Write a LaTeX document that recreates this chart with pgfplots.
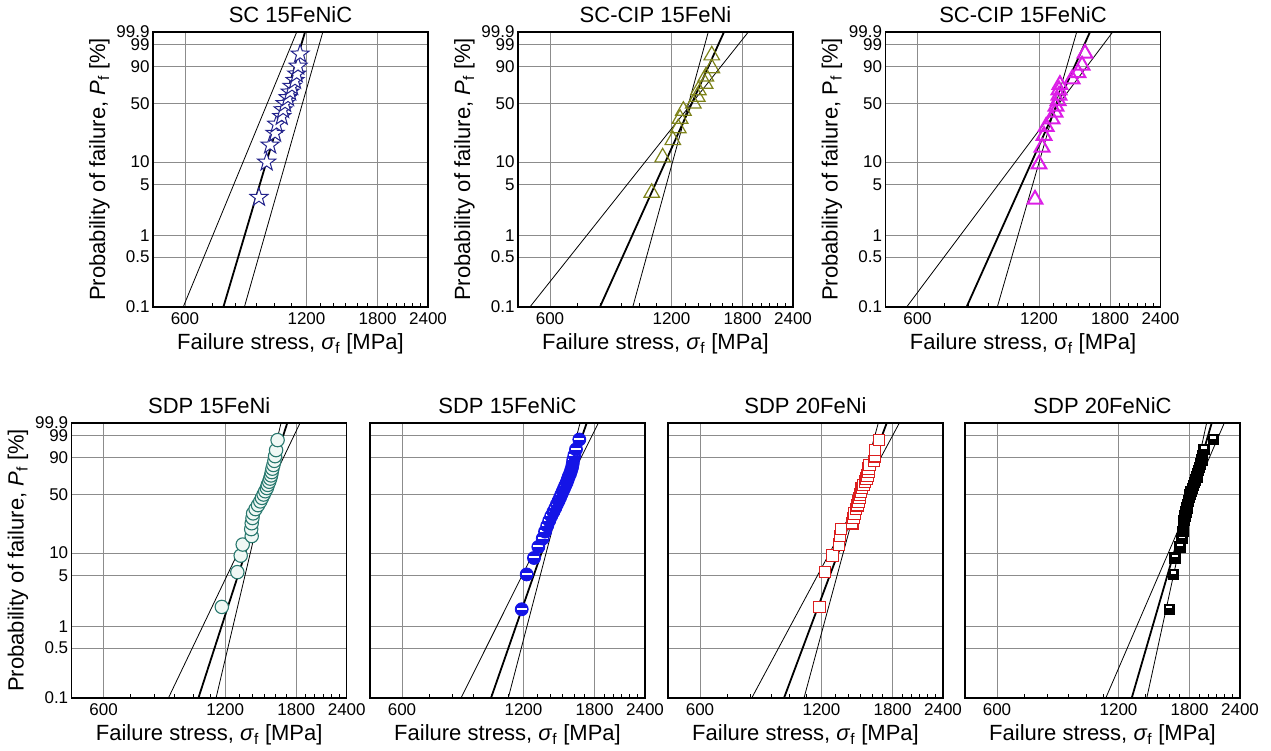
\documentclass[border=0pt]{standalone}
\usepackage{fontspec}
\setmainfont{Liberation Sans}
\usepackage{pgfplots}
\pgfplotsset{compat=1.18}
\usepackage{pgfplotstable}
\usetikzlibrary{plotmarks}

\definecolor{cnavy}{RGB}{35,35,140}
\definecolor{colive}{RGB}{125,130,25}
\definecolor{cmag}{RGB}{220,30,230}
\definecolor{cteal}{RGB}{40,120,110}
\definecolor{ctealf}{RGB}{240,248,245}
\definecolor{cblue}{RGB}{20,20,230}
\definecolor{cred}{RGB}{220,30,30}

\pgfdeclareplotmark{ostar}{%
  \pgfpathmoveto{\pgfpointpolar{90}{\pgfplotmarksize}}%
  \pgfpathlineto{\pgfpointpolar{126}{0.4\pgfplotmarksize}}%
  \pgfpathlineto{\pgfpointpolar{162}{\pgfplotmarksize}}%
  \pgfpathlineto{\pgfpointpolar{198}{0.4\pgfplotmarksize}}%
  \pgfpathlineto{\pgfpointpolar{234}{\pgfplotmarksize}}%
  \pgfpathlineto{\pgfpointpolar{270}{0.4\pgfplotmarksize}}%
  \pgfpathlineto{\pgfpointpolar{306}{\pgfplotmarksize}}%
  \pgfpathlineto{\pgfpointpolar{342}{0.4\pgfplotmarksize}}%
  \pgfpathlineto{\pgfpointpolar{18}{\pgfplotmarksize}}%
  \pgfpathlineto{\pgfpointpolar{54}{0.4\pgfplotmarksize}}%
  \pgfpathclose
  \pgfusepathqfillstroke
}
\pgfdeclareplotmark{bandcircle}{%
  \pgfpathcircle{\pgfpointorigin}{\pgfplotmarksize}%
  \pgfusepathqfillstroke
  \pgfscope
  \pgfsetfillcolor{white}%
  \pgfpathrectangle{\pgfpoint{-0.75\pgfplotmarksize}{-0.05\pgfplotmarksize}}{\pgfpoint{1.5\pgfplotmarksize}{0.3\pgfplotmarksize}}%
  \pgfusepathqfill
  \endpgfscope
}
\pgfdeclareplotmark{bandsquare}{%
  \pgfpathrectangle{\pgfpoint{-\pgfplotmarksize}{-\pgfplotmarksize}}{\pgfpoint{2\pgfplotmarksize}{2\pgfplotmarksize}}%
  \pgfusepathqfillstroke
  \pgfscope
  \pgfsetfillcolor{white}%
  \pgfpathrectangle{\pgfpoint{-0.55\pgfplotmarksize}{0.15\pgfplotmarksize}}{\pgfpoint{1.1\pgfplotmarksize}{0.45\pgfplotmarksize}}%
  \pgfusepathqfill
  \endpgfscope
}

% failure stress S [MPa], probability of failure P [%]
\pgfplotstableread{
S P
915 3.33
956 10
975 16.67
1003 23.33
1012 30
1042 36.67
1050 43.33
1062 50
1080 56.67
1093 63.33
1105 70
1124 76.67
1135 83.33
1144 90
1157 96.67
}\tabA
\pgfplotstableread{
S P
1072 3.85
1141 11.54
1209 19.23
1247 26.92
1260 34.62
1284 42.31
1359 50
1390 57.69
1399 65.38
1453 73.08
1460 80.77
1510 88.46
1510 96.15
}\tabB
\pgfplotstableread{
S P
1173 3.13
1200 9.38
1221 15.63
1235 21.88
1250 28.13
1292 34.38
1315 40.63
1322 46.88
1338 53.13
1345 59.38
1345 65.63
1352 71.88
1449 78.13
1499 84.38
1534 90.63
1560 96.88
}\tabC
\pgfplotstableread{
S P
1177 1.85
1286 5.56
1311 9.26
1326 12.96
1396 16.67
1392 20.37
1396 24.07
1402 27.78
1407 31.48
1427 35.19
1447 38.89
1466 42.59
1480 46.30
1494 50
1508 53.70
1522 57.41
1530 61.11
1542 64.81
1551 68.52
1559 72.22
1565 75.93
1571 79.63
1580 83.33
1589 87.04
1595 90.74
1604 94.44
1618 98.15
}\tabD
\pgfplotstableread{
S P
1188 1.72
1222 5.17
1274 8.62
1306 12.07
1339 15.52
1357 18.97
1374 22.41
1390 25.86
1406 29.31
1423 32.76
1439 36.21
1452 39.66
1466 43.10
1478 46.55
1489 50
1501 53.45
1512 56.90
1523 60.34
1535 63.79
1544 67.24
1553 70.69
1565 74.14
1574 77.59
1583 81.03
1589 84.48
1594 87.93
1604 91.38
1619 94.83
1650 98.28
}\tabE
\pgfplotstableread{
S P
1185 1.85
1224 5.56
1279 9.26
1326 12.96
1334 16.67
1341 20.37
1430 24.07
1439 27.78
1447 31.48
1461 35.19
1472 38.89
1484 42.59
1489 46.30
1495 50
1504 53.70
1510 57.41
1523 61.11
1538 64.81
1553 68.52
1558 72.22
1567 75.93
1567 79.63
1576 83.33
1619 87.04
1628 90.74
1628 94.44
1666 98.15
}\tabF
\pgfplotstableread{
S P
1603 1.72
1641 5.17
1657 8.62
1704 12.07
1721 15.52
1731 18.97
1737 22.41
1743 25.86
1754 29.31
1763 32.76
1771 36.21
1777 39.66
1787 43.10
1797 46.55
1804 50
1815 53.45
1828 56.90
1839 60.34
1849 63.79
1860 67.24
1875 70.69
1885 74.14
1896 77.59
1907 81.03
1918 84.48
1929 87.93
1940 91.38
1954 94.83
2061 98.28
}\tabG

\newcommand{\wbY}{ln(-ln(1-\thisrow{P}/100))}

\pgfplotsset{
  every axis/.append style={
    scale only axis, width=275bp, height=275bp,
    anchor=north west,
    xmin=500, xmax=2400,
    ymin=-6.9073, ymax=1.9326,
    xtick={600,1200,1800,2400}, xticklabels={600,1200,1800,2400},
    minor xtick={700,800,900,1000,1100,1300,1400,1500,1600,1700,1900,2000,2100,2200,2300},
    ytick={-6.9073,-5.2958,-4.6001,-2.9702,-2.2504,-0.3665,0.8340,1.5272,1.9326},
    yticklabels={0.1,0.5,1,5,10,50,90,99,99.9},
    grid=major, major grid style={black!45, line width=0.6bp},
    axis line style={line width=1.2bp},
    tick pos=left, tick align=inside,
    major tick length=0bp, minor tick length=4bp,
    minor tick style={black, line width=0.8bp},
    tick label style={font=\fontsize{17bp}{19bp}\selectfont},
    xticklabel style={yshift=-2bp},
    title style={font=\fontsize{22bp}{25bp}\selectfont},
    label style={font=\fontsize{22bp}{25bp}\selectfont},
    xlabel style={yshift=-2bp},
  },
  thinl/.style={black, line width=0.8bp, no marks},
  thickl/.style={black, line width=1.8bp, no marks},
}
\newcommand{\pyl}{Probability of failure, \textit{P}\textsubscript{f} [\%]}
\newcommand{\sxl}{Failure stress, \textit{σ}\textsubscript{f} [MPa]}

\begin{document}
\begin{tikzpicture}
\useasboundingbox (0,0) rectangle (1271bp,-751bp);

% ---- top row ----
\begin{axis}[xmode=log, at={(153bp,-32bp)}, title={SC 15FeNiC}, ylabel={\pyl}, xlabel={\sxl}]
\addplot[thinl] coordinates {(594,-6.9073) (1135,1.9326)};
\addplot[thickl] coordinates {(747,-6.9073) (1190,1.9326)};
\addplot[thinl] coordinates {(842,-6.9073) (1317,1.9326)};
\addplot[only marks, mark=ostar, mark size=9.5bp, draw=cnavy, fill=white, line width=1bp]
  table[x=S, y expr=\wbY] {\tabA};
\end{axis}

\begin{axis}[xmode=log, at={(518bp,-32bp)}, title={SC-CIP 15FeNi}, ylabel={\pyl}, xlabel={\sxl}]
\addplot[thinl] coordinates {(535,-6.9073) (1860,1.9326)};
\addplot[thickl] coordinates {(798,-6.9073) (1619,1.9326)};
\addplot[thinl] coordinates {(962,-6.9073) (1480,1.9326)};
\addplot[only marks, mark=triangle, mark size=9bp, draw=colive, line width=1.2bp]
  table[x=S, y expr=\wbY] {\tabB};
\end{axis}

\begin{axis}[xmode=log, at={(885.5bp,-32bp)}, title={SC-CIP 15FeNiC},
  ylabel={Probability of failure, P\textsubscript{f} [\%]},
  xlabel={Failure stress, σ\textsubscript{f} [MPa]}]
\addplot[thinl] coordinates {(564,-6.9073) (1827,1.9326)};
\addplot[thickl] coordinates {(794,-6.9073) (1605,1.9326)};
\addplot[thinl] coordinates {(946,-6.9073) (1488,1.9326)};
\addplot[only marks, mark=triangle, mark size=8.5bp, draw=cmag, line width=2bp]
  table[x=S, y expr=\wbY] {\tabC};
\end{axis}

% ---- bottom row ----
\begin{axis}[xmode=log, at={(71.7bp,-423bp)}, title={SDP 15FeNi}, ylabel={\pyl}, xlabel={\sxl}]
\addplot[thinl] coordinates {(868,-6.9073) (1839,1.9326)};
\addplot[thickl] coordinates {(1030,-6.9073) (1710,1.9326)};
\addplot[thinl] coordinates {(1139,-6.9073) (1650,1.9326)};
\addplot[only marks, mark=*, mark size=6.7bp, draw=cteal, fill=ctealf, line width=1.1bp]
  table[x=S, y expr=\wbY] {\tabD};
\end{axis}

\begin{axis}[xmode=log, yticklabels={}, at={(370bp,-423bp)}, title={SDP 15FeNiC}, xlabel={\sxl}]
\addplot[thinl] coordinates {(840,-6.9073) (1839,1.9326)};
\addplot[thickl] coordinates {(997,-6.9073) (1721,1.9326)};
\addplot[thinl] coordinates {(1100,-6.9073) (1657,1.9326)};
\addplot[only marks, mark=bandcircle, mark size=6.5bp, draw=cblue, fill=cblue, line width=0.8bp]
  table[x=S, y expr=\wbY] {\tabE};
\end{axis}

\begin{axis}[xmode=log, yticklabels={}, at={(668bp,-423bp)}, title={SDP 20FeNi}, xlabel={\sxl}]
\addplot[thinl] coordinates {(806,-6.9073) (1871,1.9326)};
\addplot[thickl] coordinates {(969,-6.9073) (1741,1.9326)};
\addplot[thinl] coordinates {(1086,-6.9073) (1659,1.9326)};
\addplot[only marks, mark=square*, mark size=5.8bp, draw=cred, fill=white, line width=1.1bp]
  table[x=S, y expr=\wbY] {\tabF};
\end{axis}

\begin{axis}[xmode=log, yticklabels={}, at={(965bp,-423bp)}, title={SDP 20FeNiC}, xlabel={\sxl}]
\addplot[thinl] coordinates {(1116,-6.9073) (2194,1.9326)};
\addplot[thickl] coordinates {(1294,-6.9073) (2042,1.9326)};
\addplot[thinl] coordinates {(1410,-6.9073) (1984,1.9326)};
\addplot[only marks, mark=bandsquare, mark size=5.2bp, draw=black, fill=black, line width=0.8bp]
  table[x=S, y expr=\wbY] {\tabG};
\end{axis}

\end{tikzpicture}
\end{document}
